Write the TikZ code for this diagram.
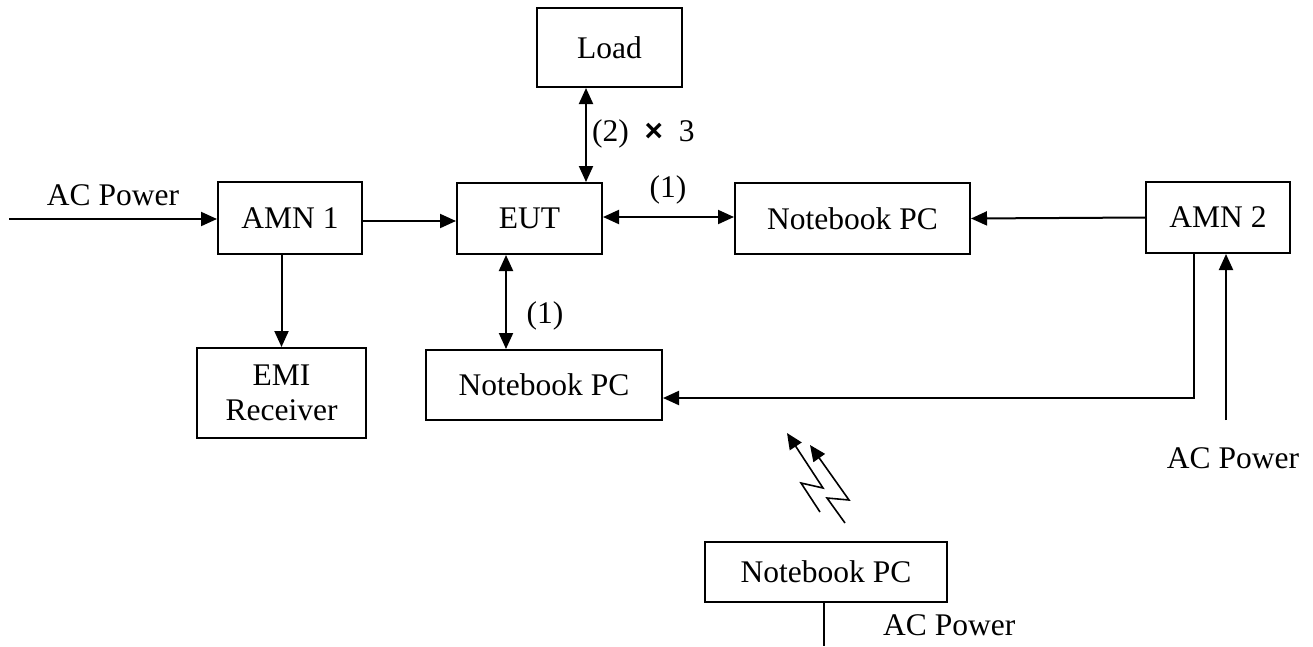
\documentclass[tikz,border=0pt]{standalone}
\usepackage{fontspec}
\setmainfont{Liberation Serif}
\newfontfamily\symfont{Liberation Sans}
\usetikzlibrary{arrows.meta,calc}
\begin{document}
\begin{tikzpicture}[x=1pt,y=-1pt,
  every node/.style={font=\fontsize{31.5}{36}\selectfont},
  box/.style={draw,line width=2pt,rectangle,inner sep=0pt,align=center},
  conn/.style={line width=2pt},
  arr/.style={conn,-{Triangle[length=16pt,width=14pt]}},
  darr/.style={conn,{Triangle[length=16pt,width=14pt]}-{Triangle[length=16pt,width=14pt]}},
  lbl/.style={inner sep=0pt}]
\useasboundingbox (0,0) rectangle (1313,646);
\node[box,minimum width=145pt,minimum height=79pt] (load) at (609.5,47.5) {Load};
\node[box,minimum width=145pt,minimum height=71pt] (eut) at (529.5,218.5) {EUT};
\node[box,minimum width=235pt,minimum height=71pt] (nb1) at (852.5,218.5) {Notebook PC};
\node[box,minimum width=144pt,minimum height=72pt] (amn1) at (290,218) {AMN 1};
\node[box,minimum width=144pt,minimum height=71pt] (amn2) at (1218,217.5) {AMN 2};
\node[box,minimum width=169pt,minimum height=90pt] (emi) at (281.5,393) {EMI\\[-1pt]Receiver};
\node[box,minimum width=236pt,minimum height=70pt] (nb2) at (544,385) {Notebook PC};
\node[box,minimum width=242pt,minimum height=60pt] (nb3) at (826,572) {Notebook PC};

\coordinate (acin) at (9,219);
\coordinate (lt) at ($(load.south)+(-23.5,0)$);
\coordinate (et) at ($(eut.north)+(56.5,0)$);
\coordinate (eb) at ($(eut.south)+(-23.5,0)$);
\coordinate (nt) at ($(nb2.north)+(-38,0)$);
\coordinate (a2b) at ($(amn2.south)+(-24,0)$);
\coordinate (a2c) at (1194,398);
\coordinate (nbr) at ($(nb2.east)+(0,13)$);
\coordinate (acin2) at (1226,420);
\coordinate (a2in) at ($(amn2.south)+(8,0)$);
\coordinate (nb3b) at ($(nb3.south)+(-2,0)$);
\coordinate (acout) at (824,646);

\draw[arr] (acin) -- (amn1.west |- acin);
\draw[arr] (amn1.east |- 0,221) -- (eut.west |- 0,221);
\draw[darr] (lt) -- (et);
\draw[darr] (eut.east |- 0,217) -- (nb1.west |- 0,217);
\draw[arr] (amn2.west) -- (nb1.east);
\draw[arr] (amn1.south -| emi.north) -- (emi.north);
\draw[darr] (eb) -- (nt);
\draw[arr] (a2b) -- (a2c) -- (nbr);
\draw[arr] (acin2) -- (a2in);
\draw[conn] (nb3b) -- (acout);

\draw[arr,line width=1.6pt] (820,512) -- (801,483) -- (823,488) -- (787,433);
\draw[arr,line width=1.6pt] (845,523) -- (827,498) -- (849,500) -- (810,445);

\node[lbl] (l1) at (113,195) {AC Power};
\node[lbl,anchor=west] (l2) at (592,134) {(2)~~{\symfont\bfseries ×}~~3};
\node[lbl] (l3) at (668,190) {(1)};
\node[lbl] (l4) at (545,316) {(1)};
\node[lbl] (l5) at (1233,458) {AC Power};
\node[lbl,anchor=west] (l6) at (883,625) {AC Power};
\end{tikzpicture}
\end{document}
